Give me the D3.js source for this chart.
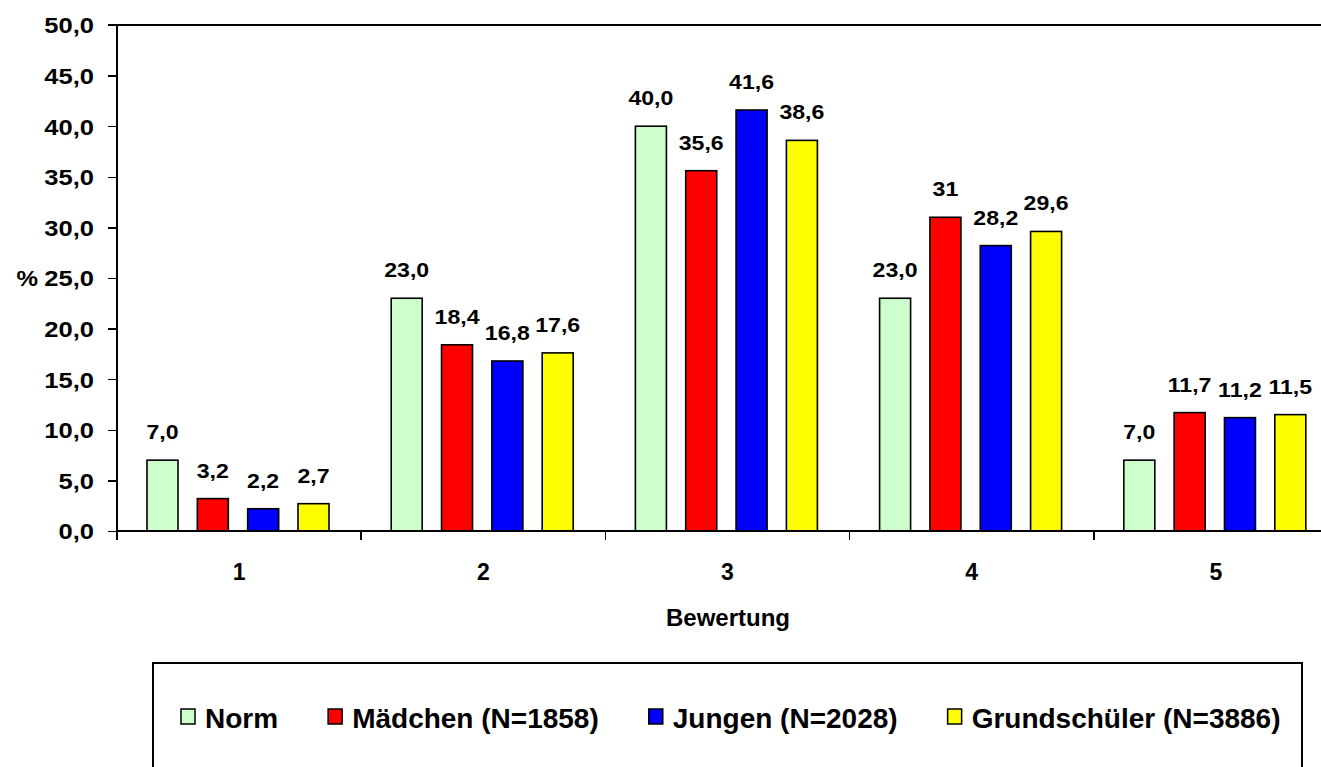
<!DOCTYPE html>
<html lang="de">

<head>
    <meta charset="UTF-8">
    <title>Bewertung</title>
    <style>
        body {
            margin: 0;
            background: #fff;
        }

        svg text {
            font-family: "Liberation Sans", Arial, sans-serif;
            font-weight: bold;
            fill: #000;
        }

        .axis path,
        .axis line {
            stroke: #000;
            stroke-width: 1.5px;
            shape-rendering: crispEdges;
        }

        .bar {
            stroke: #000;
            stroke-width: 1.6px;
        }
    </style>
</head>

<body>
    <script src="https://d3js.org/d3.v7.min.js"></script>
    <script>
        // data
        var categories = ["1", "2", "3", "4", "5"];
        var seriesNames = ["Norm", "Mädchen (N=1858)", "Jungen (N=2028)", "Grundschüler (N=3886)"];
        var seriesColors = ["#ccffcc", "#ff0000", "#0000ff", "#ffff00"];

        var norm = [7.0, 23.0, 40.0, 23.0, 7.0];
        var maedchen = [3.2, 18.4, 35.6, 31, 11.7];
        var jungen = [2.2, 16.8, 41.6, 28.2, 11.2];
        var grundschueler = [2.7, 17.6, 38.6, 29.6, 11.5];

        // labels as printed above the bars
        var normLabels = ["7,0", "23,0", "40,0", "23,0", "7,0"];
        var maedchenLabels = ["3,2", "18,4", "35,6", "31", "11,7"];
        var jungenLabels = ["2,2", "16,8", "41,6", "28,2", "11,2"];
        var grundLabels = ["2,7", "17,6", "38,6", "29,6", "11,5"];

        var yTicks = [0, 5, 10, 15, 20, 25, 30, 35, 40, 45, 50];

        var seriesValues = [norm, maedchen, jungen, grundschueler];
        var seriesLabels = [normLabels, maedchenLabels, jungenLabels, grundLabels];

        var margin = { top: 25, left: 117 },
            width = 1221,
            height = 506;

        var de = d3.formatLocale({ decimal: ",", thousands: ".", grouping: [3], currency: ["", " €"] });
        var fmt = de.format(".1f");

        // widen the glyphs a bit, the numbers in the original are stretched
        function stretch(sel, k) {
            sel.each(function () {
                var len = this.getComputedTextLength();
                d3.select(this)
                    .attr("textLength", len * k)
                    .attr("lengthAdjust", "spacingAndGlyphs");
            });
        }

        // scales
        var x0 = d3.scaleBand().domain(categories).range([0, width]).padding(0);
        var x1 = d3.scaleBand().domain(d3.range(seriesNames.length))
            .range([30, 212]).paddingInner(0.384).paddingOuter(0);
        var y = d3.scaleLinear().domain([0, 50]).range([height, 0]);

        var svg = d3.select("body").append("svg")
            .attr("width", 1321)
            .attr("height", 767);

        var g = svg.append("g")
            .attr("transform", "translate(" + margin.left + "," + margin.top + ")");

        // top border line at 50
        g.append("line")
            .attr("x1", -9).attr("x2", 1321)
            .attr("y1", y(50)).attr("y2", y(50))
            .attr("stroke", "#000").attr("stroke-width", 1.5)
            .attr("shape-rendering", "crispEdges");

        // bars
        var rows = [];
        categories.forEach(function (c, i) {
            seriesValues.forEach(function (vals, s) {
                rows.push({ cat: c, s: s, v: vals[i], label: seriesLabels[s][i] });
            });
        });

        g.selectAll(".bar")
            .data(rows)
            .enter().append("rect")
            .attr("class", "bar")
            .attr("x", function (d) { return x0(d.cat) + x1(d.s); })
            .attr("y", function (d) { return y(d.v); })
            .attr("width", x1.bandwidth())
            .attr("height", function (d) { return height - y(d.v); })
            .attr("fill", function (d) { return seriesColors[d.s]; });

        // value labels
        g.selectAll(".vlabel")
            .data(rows)
            .enter().append("text")
            .attr("class", "vlabel")
            .attr("x", function (d) { return x0(d.cat) + x1(d.s) + x1.bandwidth() / 2; })
            .attr("y", function (d) { return y(d.v) - 21; })
            .attr("text-anchor", "middle")
            .style("font-size", "21px")
            .text(function (d) { return d.label; })
            .call(stretch, 1.1);

        // Y axis
        var yAxis = g.append("g")
            .attr("class", "axis")
            .call(d3.axisLeft(y)
                .tickValues(yTicks)
                .tickSize(9)
                .tickSizeOuter(0)
                .tickPadding(14)
                .tickFormat(fmt));
        yAxis.select(".domain").attr("d", "M0," + y(50) + "V" + (height + 9));
        yAxis.selectAll(".tick text")
            .style("font-size", "22px")
            .style("font-family", "Liberation Sans, Arial, sans-serif")
            .style("font-weight", "bold")
            .attr("dy", "0.36em")
            .call(stretch, 1.16);

        // "%" label
        g.append("text")
            .attr("x", -79)
            .attr("y", y(25))
            .attr("dy", "0.36em")
            .attr("text-anchor", "end")
            .style("font-size", "22px")
            .text("%")
            .call(stretch, 1.1);

        // X axis
        var xAxis = g.append("g")
            .attr("class", "axis")
            .attr("transform", "translate(0," + height + ")");
        xAxis.append("line")
            .attr("x1", 0).attr("x2", width)
            .attr("y1", 0).attr("y2", 0);
        xAxis.selectAll(".xtick")
            .data(categories.slice(1))
            .enter().append("line")
            .attr("class", "xtick")
            .attr("x1", function (d) { return x0(d); })
            .attr("x2", function (d) { return x0(d); })
            .attr("y1", 0).attr("y2", 9);
        xAxis.selectAll(".xlabel")
            .data(categories)
            .enter().append("text")
            .attr("class", "xlabel")
            .attr("x", function (d) { return x0(d) + x0.bandwidth() / 2; })
            .attr("y", 49)
            .attr("text-anchor", "middle")
            .style("font-size", "23px")
            .text(function (d) { return d; });

        // axis title
        svg.append("text")
            .attr("x", 728)
            .attr("y", 626)
            .attr("text-anchor", "middle")
            .style("font-size", "24px")
            .text("Bewertung");

        // legend
        svg.append("rect")
            .attr("x", 153)
            .attr("y", 663)
            .attr("width", 1149)
            .attr("height", 140)
            .attr("fill", "none")
            .attr("stroke", "#000")
            .attr("stroke-width", 2);

        var lx = 181;
        seriesNames.forEach(function (name, i) {
            var item = svg.append("g").attr("transform", "translate(" + lx + ",709)");
            item.append("rect")
                .attr("x", 0).attr("y", 0)
                .attr("width", 14).attr("height", 15)
                .attr("fill", seriesColors[i])
                .attr("stroke", "#000")
                .attr("stroke-width", 1.5);
            var t = item.append("text")
                .attr("x", 24)
                .attr("y", 19)
                .style("font-size", "28px")
                .text(name);
            lx += 24 + t.node().getComputedTextLength() + 50;
        });
    </script>
</body>

</html>
